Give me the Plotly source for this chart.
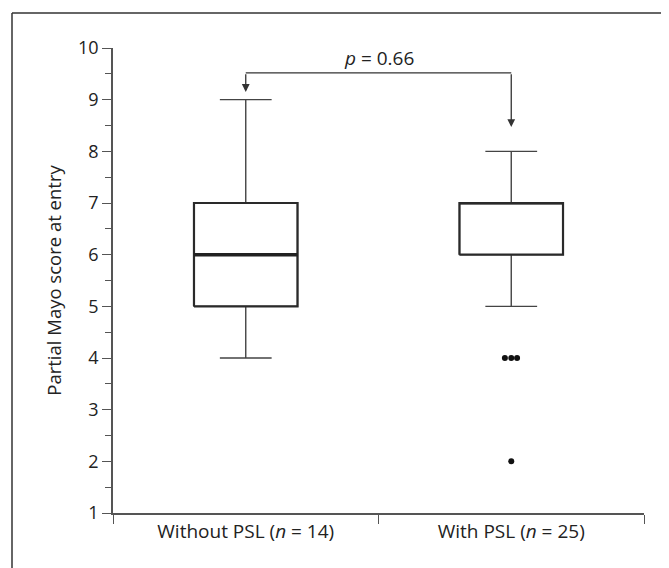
import plotly.graph_objects as go

# ---- data ----
groups = ["Without PSL (<i>n</i> = 14)", "With PSL (<i>n</i> = 25)"]
group_pos = [1, 2]
q1 = [5, 6]
median = [6, 7]
q3 = [7, 7]
lower_whisker = [4, 5]
upper_whisker = [9, 8]
outlier_values = [4, 4, 4, 2]
outlier_group = [2, 2, 2, 2]
outlier_jitter = [-0.024, 0.0, 0.022, 0.0]
p_text = "<i>p</i> = 0.66"
y_ticks = list(range(1, 11))

# ---- style ----
FONT = "Open Sans"
TXT = "#222222"
AX = "#555555"
BOX_W = 0.39
bracket_y = 9.52
arrow_tips = [9.15, 8.47]

# page body adds an 8px offset; margins compensate for it
ML, MT, MR, MB = 105, 40, 33, 63
PW, PH = 669 - ML - MR, 568 - MT - MB

fig = go.Figure()
for i in range(2):
    # whiskers / caps (thin grey)
    fig.add_trace(go.Box(
        x=[group_pos[i]], q1=[q1[i]], median=[median[i]], q3=[q3[i]],
        lowerfence=[lower_whisker[i]], upperfence=[upper_whisker[i]],
        width=BOX_W, whiskerwidth=0.5,
        fillcolor="white", line=dict(color="#444444", width=1.4),
        boxpoints=False, showlegend=False, hoverinfo="skip",
    ))
    # box outline (darker, thicker)
    xl, xr = group_pos[i] - BOX_W / 2, group_pos[i] + BOX_W / 2
    fig.add_trace(go.Scatter(
        x=[xl, xr, xr, xl, xl], y=[q1[i], q1[i], q3[i], q3[i], q1[i]],
        mode="lines", line=dict(color="#2a2a2a", width=2.2),
        showlegend=False, hoverinfo="skip",
    ))
    # thick median line (only visible when inside the box)
    if q1[i] < median[i] < q3[i]:
        fig.add_trace(go.Scatter(
            x=[xl, xr], y=[median[i], median[i]], mode="lines",
            line=dict(color="#222222", width=3.5), showlegend=False, hoverinfo="skip",
        ))

fig.add_trace(go.Scatter(
    x=[g + j for g, j in zip(outlier_group, outlier_jitter)], y=outlier_values,
    mode="markers", marker=dict(color="#111111", size=6),
    showlegend=False, hoverinfo="skip",
))

# bracket
fig.add_shape(type="line", xref="x", yref="y", x0=group_pos[0], x1=group_pos[1],
              y0=bracket_y, y1=bracket_y, line=dict(color="#333333", width=1.3))
for g, tip in zip(group_pos, arrow_tips):
    fig.add_annotation(x=g, y=tip, ax=g, ay=bracket_y, xref="x", yref="y",
                       axref="x", ayref="y", text="", showarrow=True,
                       arrowhead=2, arrowsize=1.2, arrowwidth=1.3, arrowcolor="#333333")
fig.add_annotation(x=(group_pos[0] + group_pos[1]) / 2, y=bracket_y, xref="x", yref="y",
                   text=p_text, showarrow=False, yanchor="bottom", yshift=0,
                   font=dict(family=FONT, size=19, color=TXT))

# outer frame (left and top only)
fx = (4 - ML) / PW
fy = 1 + (MT - 5) / PH
fig.add_shape(type="line", xref="paper", yref="paper", x0=fx, x1=fx,
              y0=-1.2, y1=fy, line=dict(color="#333333", width=1.5))
fig.add_shape(type="line", xref="paper", yref="paper", x0=fx, x1=1.2,
              y0=fy, y1=fy, line=dict(color="#333333", width=1.5))

fig.update_layout(
    width=669, height=568,
    margin=dict(l=ML, r=MR, t=MT, b=MB),
    paper_bgcolor="white", plot_bgcolor="white",
    font=dict(family=FONT, size=18, color=TXT),
    xaxis=dict(
        range=[0.5, 2.5], tickvals=group_pos, ticktext=groups, ticks="",
        showline=True, linecolor=AX, linewidth=1.5, showgrid=False, zeroline=False,
        automargin=False,
        minor=dict(tickvals=[0.5, 1.5, 2.5], ticks="outside", ticklen=9,
                   tickcolor=AX, tickwidth=1.2, showgrid=False),
        tickfont=dict(size=19, color=TXT),
    ),
    yaxis=dict(
        range=[1, 10], tickvals=y_ticks, ticks="outside", ticklen=9, tickwidth=1.2,
        tickcolor=AX, showline=True, linecolor=AX, linewidth=1.5,
        showgrid=False, zeroline=False, automargin=False,
        minor=dict(dtick=0.5, tick0=0.5, ticks="outside", ticklen=6,
                   tickcolor=AX, tickwidth=1.2, showgrid=False),
        tickfont=dict(size=18, color=TXT),
        title=dict(text="Partial Mayo score at entry", standoff=12,
                   font=dict(size=18.5, color=TXT)),
    ),
)

fig.write_html("out.html")
